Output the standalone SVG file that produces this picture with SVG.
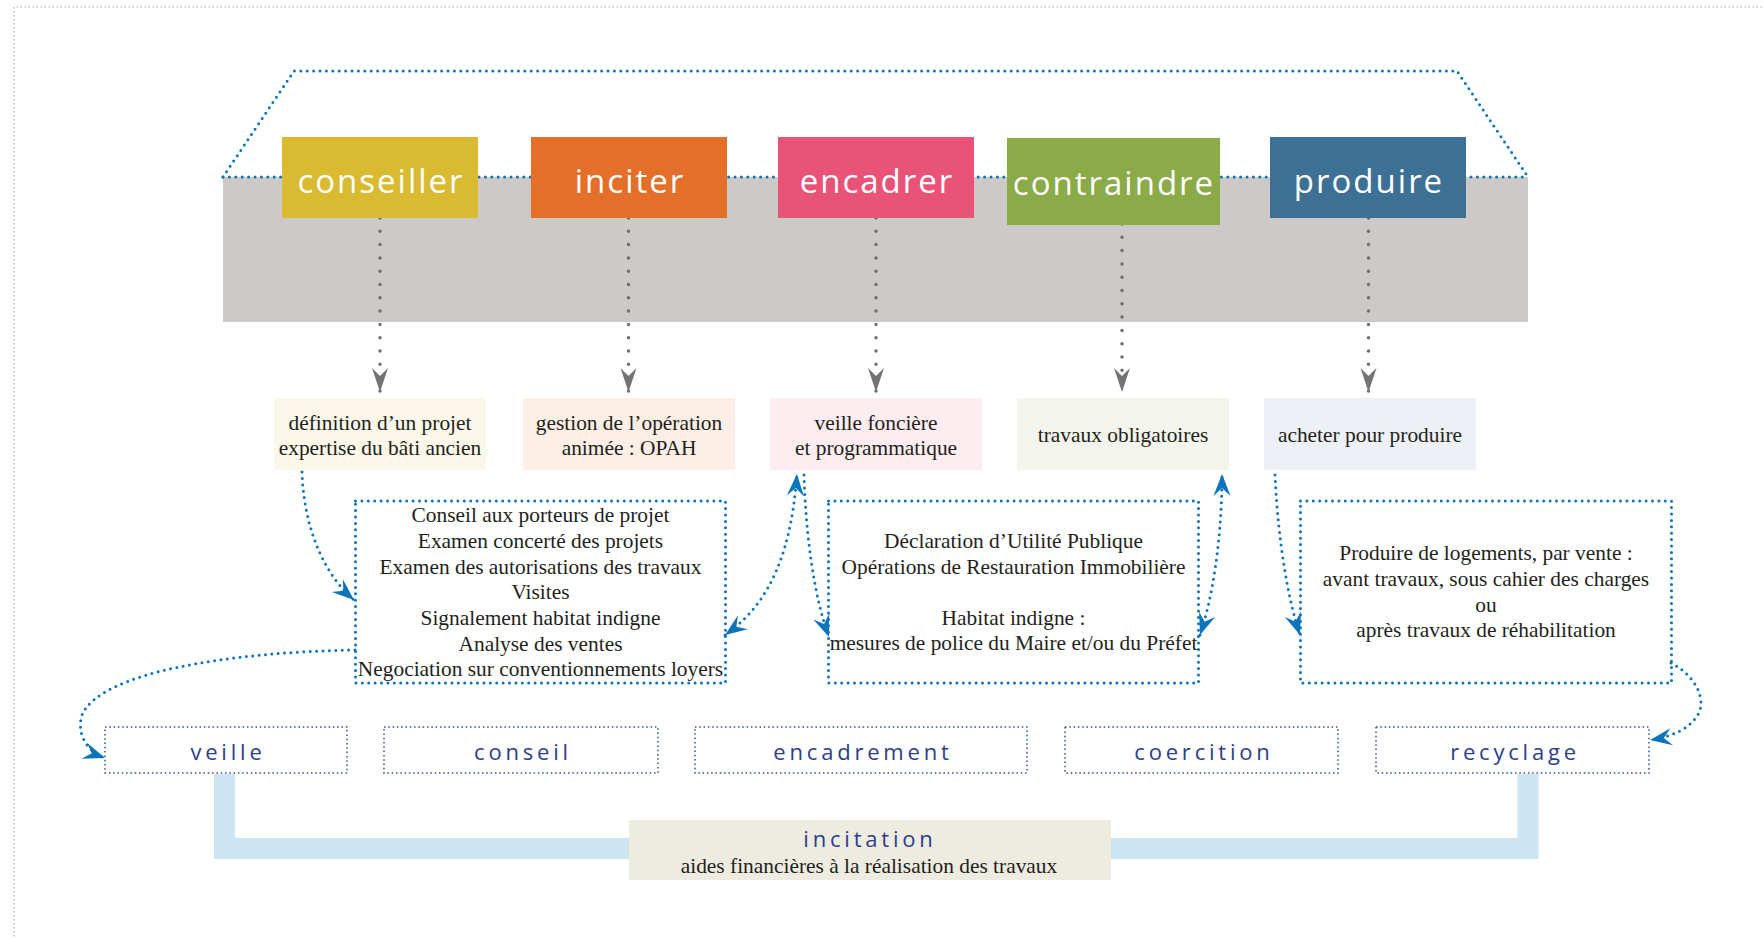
<svg xmlns="http://www.w3.org/2000/svg" width="1763" height="939" viewBox="0 0 1763 939">
<style>
.bg{fill:#ffffff}
.frame{fill:none;stroke:#c4c4c4;stroke-width:1.5;stroke-dasharray:1.5 2.5}
.bdot{fill:none;stroke:#0b74bb;stroke-width:3;stroke-linecap:round;stroke-dasharray:0 6.4}
.gdot{fill:none;stroke:#6f6f6f;stroke-width:3.5;stroke-linecap:round;stroke-dasharray:0 13.3}
.ndot{fill:none;stroke:#3a4c96;stroke-width:1.5;stroke-dasharray:1.5 2.8}
.verb{font-family:'Open Sans',sans-serif;font-size:33px;fill:#ffffff;letter-spacing:2px;text-anchor:middle}
.ser{font-family:'Liberation Serif','Times New Roman',serif;font-size:21.4px;fill:#231f20;text-anchor:middle}
.mode{font-family:'Open Sans',sans-serif;font-size:22px;fill:#2c3e8c;letter-spacing:3.8px;text-anchor:middle}
.band{fill:none;stroke:#cde4f2;stroke-width:21;stroke-linejoin:miter}
</style>
<defs>
<marker id="ag" markerUnits="userSpaceOnUse" viewBox="-25 -9 26 18" refX="0" refY="0" markerWidth="26" markerHeight="18" orient="auto"><path d="M0,0 L-24,-8 L-16,0 L-24,8 Z" fill="#737373"/></marker>
<marker id="ab" markerUnits="userSpaceOnUse" viewBox="-23 -10 24 20" refX="0" refY="0" markerWidth="24" markerHeight="20" orient="auto-start-reverse"><path d="M0,0 L-22,-8.5 L-14,0 L-22,8.5 Z" fill="#0b74bb"/></marker>
</defs>
<rect class="bg" x="0" y="0" width="1763" height="939"/>
<path class="frame" d="M1770,7 H14 V945"/>

<g id="roof">
<rect x="223" y="177" width="1305" height="145" fill="#cdc9c7"/>
<path class="bdot" d="M223,177 L294,71 H1457 L1528,177"/>
<path class="bdot" d="M223,177 H1528"/>
</g>

<g id="band">
<path class="band" d="M224.5,774 V848.5 H640"/>
<path class="band" d="M1528,774 V848.5 H1100"/>
</g>

<g id="connectors">
<path class="gdot" d="M380,218 V392" marker-end="url(#ag)"/>
<path class="gdot" d="M628.5,218 V392" marker-end="url(#ag)"/>
<path class="gdot" d="M876,218 V392" marker-end="url(#ag)"/>
<path class="gdot" d="M1122,224 V392" marker-end="url(#ag)"/>
<path class="gdot" d="M1368.5,218 V392" marker-end="url(#ag)"/>
<path class="bdot" d="M302,472 C304,530 325,575 354,600" marker-end="url(#ab)"/>
<path class="bdot" d="M355,650 C230,652 100,672 82,715 C76,735 88,752 105,758" marker-end="url(#ab)"/>
<path class="bdot" d="M725,635 C760,610 790,570 797,474" marker-start="url(#ab)" marker-end="url(#ab)"/>
<path class="bdot" d="M804,475 C806,540 815,600 829,637" marker-end="url(#ab)"/>
<path class="bdot" d="M1200,635 C1212,600 1222,540 1222,474" marker-start="url(#ab)" marker-end="url(#ab)"/>
<path class="bdot" d="M1275,475 C1278,540 1288,600 1300,635" marker-end="url(#ab)"/>
<path class="bdot" d="M1671,663 C1695,675 1708,700 1697,716 C1688,730 1670,737 1650,740" marker-end="url(#ab)"/>
</g>

<g id="conseiller">
<rect x="282" y="137" width="196" height="81" fill="#d9ba30"/>
<text class="verb" x="381" y="193">conseiller</text>
</g>
<g id="inciter">
<rect x="531" y="137" width="196" height="81" fill="#e46f29"/>
<text class="verb" x="630" y="193">inciter</text>
</g>
<g id="encadrer">
<rect x="778" y="137" width="196" height="81" fill="#e95377"/>
<text class="verb" x="877" y="193">encadrer</text>
</g>
<g id="contraindre">
<rect x="1007" y="138" width="213" height="87" fill="#8aab48"/>
<text class="verb" x="1114" y="195">contraindre</text>
</g>
<g id="produire">
<rect x="1270" y="137" width="196" height="81" fill="#3c7195"/>
<text class="verb" x="1369" y="193">produire</text>
</g>

<g id="definition">
<rect x="274" y="398" width="212" height="72" fill="#fbf8ea"/>
<text class="ser" x="380" y="430">définition d’un projet</text>
<text class="ser" x="380" y="455">expertise du bâti ancien</text>
</g>
<g id="gestion">
<rect x="523" y="398" width="212" height="72" fill="#fdeee6"/>
<text class="ser" x="629" y="430">gestion de l’opération</text>
<text class="ser" x="629" y="455">animée : OPAH</text>
</g>
<g id="veille-fonciere">
<rect x="770" y="398" width="212" height="72" fill="#fdecf0"/>
<text class="ser" x="876" y="430">veille foncière</text>
<text class="ser" x="876" y="455">et programmatique</text>
</g>
<g id="travaux">
<rect x="1017" y="398" width="212" height="72" fill="#f3f5ec"/>
<text class="ser" x="1123" y="442">travaux obligatoires</text>
</g>
<g id="acheter">
<rect x="1264" y="398" width="212" height="72" fill="#edf0f4"/>
<text class="ser" x="1370" y="442">acheter pour produire</text>
</g>

<g id="conseil-detail">
<rect class="bdot" x="355.5" y="501" width="370" height="182"/>
<text class="ser" x="540.5" y="522">Conseil aux porteurs de projet</text>
<text class="ser" x="540.5" y="548">Examen concerté des projets</text>
<text class="ser" x="540.5" y="573.5">Examen des autorisations des travaux</text>
<text class="ser" x="540.5" y="599">Visites</text>
<text class="ser" x="540.5" y="625">Signalement habitat indigne</text>
<text class="ser" x="540.5" y="650.5">Analyse des ventes</text>
<text class="ser" x="540.5" y="676">Negociation sur conventionnements loyers</text>
</g>
<g id="declaration-detail">
<rect class="bdot" x="828.5" y="501" width="370" height="182"/>
<text class="ser" x="1013.5" y="548">Déclaration d’Utilité Publique</text>
<text class="ser" x="1013.5" y="573.5">Opérations de Restauration Immobilière</text>
<text class="ser" x="1013.5" y="624.5">Habitat indigne :</text>
<text class="ser" x="1013.5" y="650">mesures de police du Maire et/ou du Préfet</text>
</g>
<g id="produire-detail">
<rect class="bdot" x="1300.5" y="501" width="371" height="182"/>
<text class="ser" x="1486" y="560">Produire de logements, par vente :</text>
<text class="ser" x="1486" y="586">avant travaux, sous cahier des charges</text>
<text class="ser" x="1486" y="611.5">ou</text>
<text class="ser" x="1486" y="637">après travaux de réhabilitation</text>
</g>

<g id="veille">
<rect class="ndot" x="105" y="727" width="242" height="46"/>
<text class="mode" x="228" y="760">veille</text>
</g>
<g id="conseil">
<rect class="ndot" x="384" y="727" width="274" height="46"/>
<text class="mode" x="523" y="760">conseil</text>
</g>
<g id="encadrement">
<rect class="ndot" x="695" y="727" width="332" height="46"/>
<text class="mode" x="863" y="760">encadrement</text>
</g>
<g id="coercition">
<rect class="ndot" x="1065" y="727" width="273" height="46"/>
<text class="mode" x="1204" y="760">coercition</text>
</g>
<g id="recyclage">
<rect class="ndot" x="1376" y="727" width="273" height="46"/>
<text class="mode" x="1515" y="760">recyclage</text>
</g>

<g id="incitation">
<rect x="629" y="820" width="482" height="60" fill="#eeebe0"/>
<text class="mode" x="870" y="847">incitation</text>
<text class="ser" x="869" y="873">aides financières à la réalisation des travaux</text>
</g>
</svg>
